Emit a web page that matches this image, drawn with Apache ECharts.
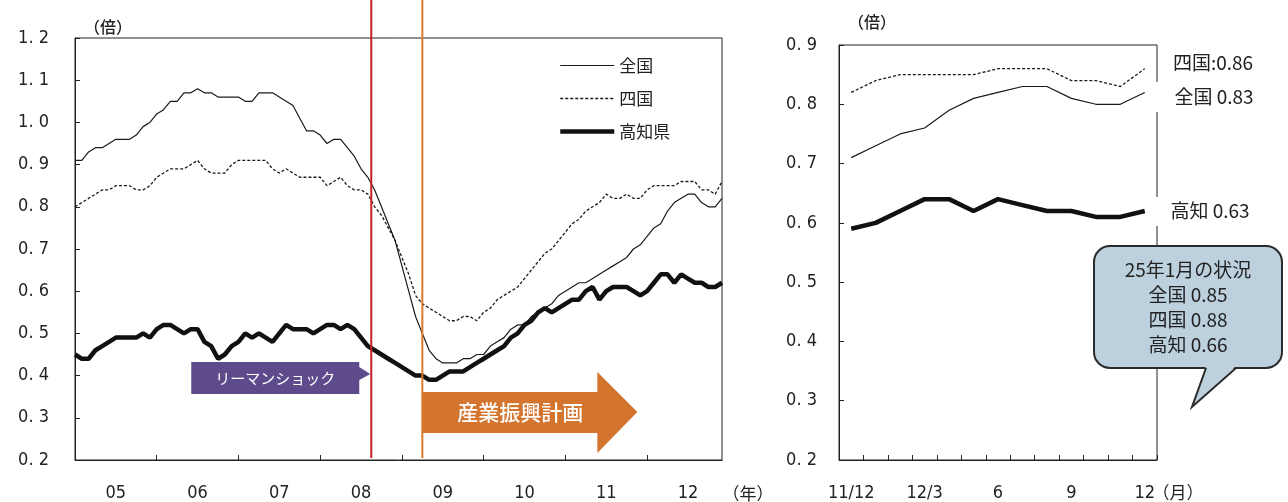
<!DOCTYPE html>
<html><head><meta charset="utf-8">
<script src="https://cdn.jsdelivr.net/npm/echarts@6/dist/echarts.min.js"></script>
<style>html,body{margin:0;padding:0;background:#fff}#c{width:1288px;height:502px}</style>
</head><body><div id="c"></div>
<script>
// ---- data ----
const yearLabels = ['05','06','07','08','09','10','11','12'];
const months = [];
for (let y = 2005; y <= 2012; y++) for (let m = 1; m <= 12; m++) months.push(y + '/' + m);

const zenkoku = [
 0.91,0.91,0.93,0.94,0.94,0.95,0.96,0.96,0.96,0.97,0.99,1.00,
 1.02,1.03,1.05,1.05,1.07,1.07,1.08,1.07,1.07,1.06,1.06,1.06,
 1.06,1.05,1.05,1.07,1.07,1.07,1.06,1.05,1.04,1.01,0.98,0.98,
 0.97,0.95,0.96,0.96,0.94,0.92,0.89,0.87,0.84,0.80,0.76,0.72,
 0.66,0.60,0.54,0.50,0.46,0.44,0.43,0.43,0.43,0.44,0.44,0.45,
 0.45,0.47,0.48,0.49,0.51,0.52,0.52,0.54,0.55,0.56,0.57,0.59,
 0.60,0.61,0.62,0.62,0.63,0.64,0.65,0.66,0.67,0.68,0.70,0.71,
 0.73,0.75,0.76,0.79,0.81,0.82,0.83,0.83,0.81,0.80,0.80,0.82
];
const shikoku = [
 0.80,0.81,0.82,0.83,0.84,0.84,0.85,0.85,0.85,0.84,0.84,0.85,
 0.87,0.88,0.89,0.89,0.89,0.90,0.91,0.89,0.88,0.88,0.88,0.90,
 0.91,0.91,0.91,0.91,0.91,0.89,0.88,0.89,0.88,0.87,0.87,0.87,
 0.87,0.85,0.86,0.87,0.85,0.84,0.84,0.83,0.80,0.78,0.75,0.72,
 0.68,0.64,0.59,0.57,0.56,0.55,0.54,0.53,0.53,0.54,0.54,0.53,
 0.55,0.56,0.58,0.59,0.60,0.61,0.63,0.65,0.67,0.69,0.70,0.72,
 0.74,0.76,0.77,0.79,0.80,0.81,0.83,0.82,0.82,0.83,0.82,0.82,
 0.84,0.85,0.85,0.85,0.85,0.86,0.86,0.86,0.84,0.84,0.83,0.86
];
const kochi = [
 0.45,0.44,0.44,0.46,0.47,0.48,0.49,0.49,0.49,0.49,0.50,0.49,
 0.51,0.52,0.52,0.51,0.50,0.51,0.51,0.48,0.47,0.44,0.45,0.47,
 0.48,0.50,0.49,0.50,0.49,0.48,0.50,0.52,0.51,0.51,0.51,0.50,
 0.51,0.52,0.52,0.51,0.52,0.51,0.49,0.47,0.46,0.45,0.44,0.43,
 0.42,0.41,0.40,0.40,0.39,0.39,0.40,0.41,0.41,0.41,0.42,0.43,
 0.44,0.45,0.46,0.47,0.49,0.50,0.52,0.53,0.55,0.56,0.55,0.56,
 0.57,0.58,0.58,0.60,0.61,0.58,0.60,0.61,0.61,0.61,0.60,0.59,
 0.60,0.62,0.64,0.64,0.62,0.64,0.63,0.62,0.62,0.61,0.61,0.62
];
const recentMonths = ['2011/12','2012/1','2012/2','2012/3','2012/4','2012/5','2012/6','2012/7','2012/8','2012/9','2012/10','2012/11','2012/12'];
const recentTickLabels = ['11/12','','','12/3','','','6','','','9','','','12'];
const recentZenkoku = [0.71,0.73,0.75,0.76,0.79,0.81,0.82,0.83,0.83,0.81,0.80,0.80,0.82];
const recentShikoku = [0.82,0.84,0.85,0.85,0.85,0.85,0.86,0.86,0.86,0.84,0.84,0.83,0.86];
const recentKochi   = [0.59,0.60,0.62,0.64,0.64,0.62,0.64,0.63,0.62,0.62,0.61,0.61,0.62];
const lehmanIndex = 43.5;   // 2008/9
const planIndex = 51;       // 2009/4
const sideLabels = ['四国:0.86', '全国 0.83', '高知 0.63'];
const calloutLines = ['25年1月の状況', '全国 0.85', '四国 0.88', '高知 0.66'];

// ---- chart ----
const JP = '"Noto Sans CJK JP", sans-serif';
const NUM = '"Liberation Sans Narrow", "DejaVu Sans Condensed", "Liberation Sans", sans-serif';
const ink = '#222';
const none = 'rgba(0,0,0,0)';
const chart = echarts.init(document.getElementById('c'));
const yFmt = v => v.toFixed(1).replace('.', '. ');
const yAxisBase = {
  type: 'value', interval: 0.1,
  axisLine: {show: true, lineStyle: {color: ink, width: 1}},
  axisTick: {show: true, inside: true, length: 5, lineStyle: {color: ink}},
  splitLine: {show: false},
  axisLabel: {formatter: yFmt, color: ink, fontFamily: NUM, fontSize: 18, margin: 26}
};
const thin = {color: '#1a1a1a', width: 1.2};
const dash = {color: '#1a1a1a', width: 1.3, type: [3, 2]};
const thick = {color: '#111', width: 4.5};
chart.setOption({
  animation: false,
  backgroundColor: '#fff',
  grid: [
    {left: 75, top: 38, right: 566, bottom: 42, show: true, borderColor: ink, borderWidth: 1, backgroundColor: 'transparent'},
    {left: 839, top: 45, right: 131, bottom: 42, show: true, borderColor: ink, borderWidth: 1, backgroundColor: 'transparent'}
  ],
  legend: {
    data: ['全国', '四国', '高知県'], orient: 'vertical', left: 553, top: 52,
    itemWidth: 54, itemHeight: 14, itemGap: 16,
    itemStyle: {opacity: 0},
    lineStyle: {width: 'inherit'},
    textStyle: {fontFamily: JP, fontSize: 17, color: ink}
  },
  xAxis: [
    {type: 'category', gridIndex: 0, data: months, boundaryGap: false,
     axisLine: {lineStyle: {color: ink}},
     axisTick: {show: true, inside: true, length: 5, interval: i => i % 12 === 0, lineStyle: {color: ink}},
     axisLabel: {interval: i => i % 12 === 6, formatter: (v, i) => yearLabels[Math.floor(i / 12)], color: ink, fontFamily: NUM, fontSize: 18, margin: 24}},
    {type: 'category', gridIndex: 1, data: recentMonths, boundaryGap: true,
     axisLine: {lineStyle: {color: ink}},
     axisTick: {show: true, inside: true, length: 5, interval: 0, lineStyle: {color: ink}},
     axisLabel: {interval: i => i % 3 === 0, formatter: (v, i) => recentTickLabels[i], color: ink, fontFamily: NUM, fontSize: 18, margin: 24}}
  ],
  yAxis: [
    Object.assign({}, yAxisBase, {gridIndex: 0, min: 0.2, max: 1.2}),
    Object.assign({}, yAxisBase, {gridIndex: 1, min: 0.2, max: 0.9, axisLabel: Object.assign({}, yAxisBase.axisLabel, {margin: 22})})
  ],
  series: [
    {name: '全国', type: 'line', xAxisIndex: 0, yAxisIndex: 0, data: zenkoku, symbol: 'none', lineStyle: thin, itemStyle: {color: none}},
    {name: '四国', type: 'line', xAxisIndex: 0, yAxisIndex: 0, data: shikoku, symbol: 'none', lineStyle: dash, itemStyle: {color: none}},
    {name: '高知県', type: 'line', xAxisIndex: 0, yAxisIndex: 0, data: kochi, symbol: 'none', lineStyle: thick, itemStyle: {color: none}},
    {name: '全国(直近)', type: 'line', xAxisIndex: 1, yAxisIndex: 1, data: recentZenkoku, symbol: 'none', lineStyle: thin},
    {name: '四国(直近)', type: 'line', xAxisIndex: 1, yAxisIndex: 1, data: recentShikoku, symbol: 'none', lineStyle: dash},
    {name: '高知(直近)', type: 'line', xAxisIndex: 1, yAxisIndex: 1, data: recentKochi, symbol: 'none', lineStyle: thick}
  ]
});

// ---- annotations positioned through the axis scale ----
const px = i => chart.convertToPixel({xAxisIndex: 0}, i);
const xL = (px(Math.floor(lehmanIndex)) + px(Math.ceil(lehmanIndex))) / 2;
const xP = px(planIndex);
const Z = 100;
const txt = (text, x, y, opts) => ({type: 'text', z: (opts && opts.z) || Z, style: Object.assign({text, x, y, align: 'center', verticalAlign: 'middle', fill: ink, font: '16px ' + JP}, opts || {})});
const g = [
  {type: 'line', z: Z, shape: {x1: xL, y1: 0, x2: xL, y2: 458}, style: {stroke: '#c42027', lineWidth: 2}},
  {type: 'line', z: Z, shape: {x1: xP, y1: 0, x2: xP, y2: 458}, style: {stroke: '#d97a2c', lineWidth: 2}},
  {type: 'polygon', z: Z, shape: {points: [[xL - 180, 362], [xL - 12, 362], [xL - 12, 367], [xL - 1, 374], [xL - 12, 380], [xL - 12, 394], [xL - 180, 394]]}, style: {fill: '#5d4b8c'}},
  txt('リーマンショック', xL - 96, 378, {fill: '#fff', font: '15px ' + JP}),
  {type: 'polygon', z: Z, shape: {points: [[xP, 392], [xP + 175, 392], [xP + 175, 372], [xP + 215, 412], [xP + 175, 453], [xP + 175, 433], [xP, 433]]}, style: {fill: '#d4752f'}},
  txt('産業振興計画', xP + 98, 412, {fill: '#fff', font: '500 21px ' + JP}),
  txt('（倍）', 108, 27, {font: '500 16px ' + JP}),
  txt('（倍）', 872, 22, {font: '500 16px ' + JP}),
  txt('（年）', 748, 494, {font: '17px ' + JP}),
  txt('（月）', 1178, 493, {font: '17px ' + JP}),
  {type: 'rect', z: Z - 1, shape: {x: 1150, y: 82, width: 112, height: 30}, style: {fill: '#fff'}},
  {type: 'rect', z: Z - 1, shape: {x: 1150, y: 197, width: 112, height: 29}, style: {fill: '#fff'}},
  txt(sideLabels[0], 1213, 63, {font: '19px ' + JP}),
  txt(sideLabels[1], 1214, 97, {font: '19px ' + JP}),
  txt(sideLabels[2], 1210, 211, {font: '19px ' + JP}),
  {type: 'rect', z: Z, shape: {x: 1094, y: 246, width: 188, height: 122, r: 16}, style: {fill: '#bcd0de', stroke: '#2a2a2a', lineWidth: 2}},
  {type: 'polygon', z: Z + 1, shape: {points: [[1206, 366], [1192, 407], [1236, 366]]}, style: {fill: '#bcd0de'}},
  {type: 'polyline', z: Z + 2, shape: {points: [[1206, 368], [1192, 407], [1236, 368]]}, style: {stroke: '#2a2a2a', lineWidth: 2, fill: null}}
];
calloutLines.forEach((t, k) => g.push(txt(t, 1188, 270 + k * 25, {font: '19px ' + JP, z: Z + 3})));
chart.setOption({graphic: g});
</script></body></html>
